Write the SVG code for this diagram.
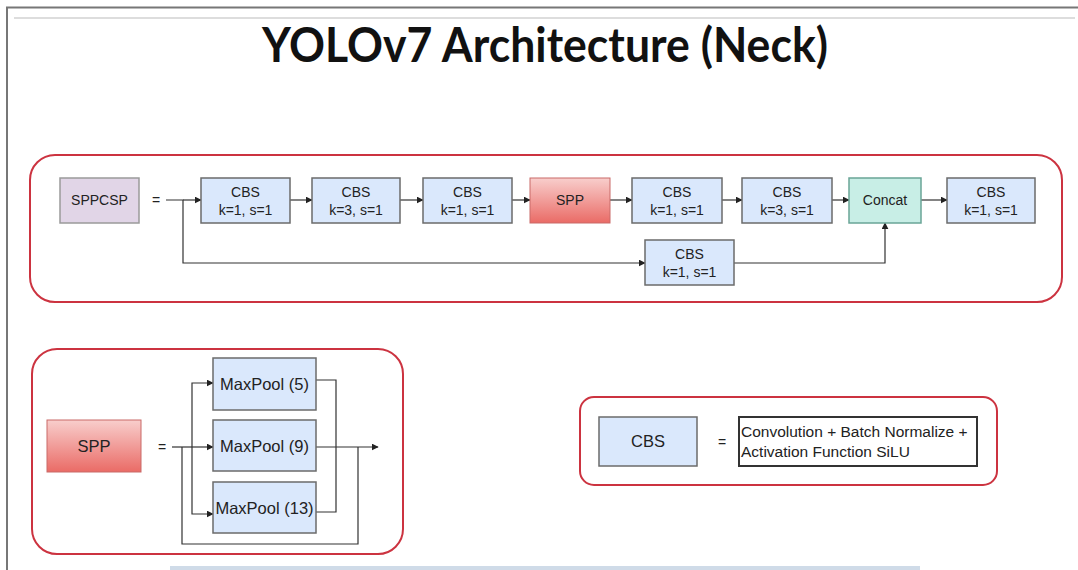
<svg xmlns="http://www.w3.org/2000/svg" width="1078" height="570" viewBox="0 0 1078 570">
<defs>
<style>
.t{font-family:"Liberation Sans",Arial,sans-serif;font-size:14px;fill:#222;text-anchor:middle}
.mp{font-family:"Liberation Sans",Arial,sans-serif;font-size:16.5px;fill:#222;text-anchor:middle}
.cbs{fill:#dae8fc;stroke:#6b6b6b;stroke-width:1.5}
.cont{fill:none;stroke:#cc3340;stroke-width:2}
.ln{fill:none;stroke:#333;stroke-width:1.2}
.arr{fill:none;stroke:#333;stroke-width:1.2;marker-end:url(#ah)}
</style>
<marker id="ah" viewBox="0 0 10 10" refX="9" refY="5" markerWidth="7" markerHeight="7" markerUnits="userSpaceOnUse" orient="auto">
<path d="M0,0 L10,5 L0,10 Z" fill="#222"/>
</marker>
<linearGradient id="red" x1="0" y1="0" x2="0" y2="1">
<stop offset="0" stop-color="#f8cecc"/>
<stop offset="1" stop-color="#ea6b66"/>
</linearGradient>
</defs>
<rect width="1078" height="570" fill="#ffffff"/>
<g id="frame">
<line x1="6" y1="7.5" x2="1078" y2="7.5" stroke="#777" stroke-width="2"/>
<line x1="7" y1="7" x2="7" y2="570" stroke="#777" stroke-width="2"/>
<line x1="14" y1="18" x2="1075" y2="18" stroke="#bbb" stroke-width="1"/>
<rect x="170" y="566" width="750" height="4" fill="#cfdbe8"/>
</g>
<text x="545" y="62" font-family="Lato,'Open Sans',sans-serif" font-weight="bold" font-size="48" fill="#111" text-anchor="middle" textLength="566" lengthAdjust="spacingAndGlyphs">YOLOv7 Architecture (Neck)</text>

<g id="containers">
<rect class="cont" x="30" y="155" width="1032" height="147" rx="25"/>
<rect class="cont" x="32" y="349" width="371" height="205" rx="25"/>
<rect class="cont" x="580" y="397" width="417" height="88" rx="14"/>
</g>

<g id="connectors">
<path class="ln" d="M166,200 H183 V263 H200"/>
<path class="arr" d="M183,200 H201"/>
<path class="arr" d="M290,200 H312"/>
<path class="arr" d="M400,200 H423"/>
<path class="arr" d="M512,200 H530"/>
<path class="arr" d="M610,200 H632"/>
<path class="arr" d="M722,200 H742"/>
<path class="arr" d="M832,200 H849"/>
<path class="arr" d="M921,200 H947"/>
<path class="arr" d="M200,263 H645"/>
<path class="arr" d="M734,263 H885 V223"/>
<path class="ln" d="M172,447 H192"/>
<path class="arr" d="M192,447 H213"/>
<path class="arr" d="M192,447 V383 H213"/>
<path class="arr" d="M192,447 V514 H213"/>
<path class="ln" d="M182,447 V544 H358 V447"/>
<path class="ln" d="M316,380 H336 V512 H316"/>
<path class="arr" d="M316,447 H378"/>
</g>

<g id="sppcsp"><rect x="60" y="178" width="79" height="45" fill="#e1d5e7" stroke="#9a9a9a" stroke-width="1.5"/><text class="t" x="99.5" y="205">SPPCSP</text></g>
<text class="t" x="156" y="205">=</text>
<g id="cbs1"><rect class="cbs" x="201" y="178" width="89" height="45"/><text class="t" x="245.5" y="197">CBS</text><text class="t" x="245.5" y="215">k=1, s=1</text></g>
<g id="cbs2"><rect class="cbs" x="312" y="178" width="88" height="45"/><text class="t" x="356" y="197">CBS</text><text class="t" x="356" y="215">k=3, s=1</text></g>
<g id="cbs3"><rect class="cbs" x="423" y="178" width="89" height="45"/><text class="t" x="467.5" y="197">CBS</text><text class="t" x="467.5" y="215">k=1, s=1</text></g>
<g id="spp1"><rect x="530" y="178" width="80" height="45" fill="url(#red)" stroke="#c96a68" stroke-width="1"/><text class="t" x="570" y="205">SPP</text></g>
<g id="cbs4"><rect class="cbs" x="632" y="178" width="90" height="45"/><text class="t" x="677" y="197">CBS</text><text class="t" x="677" y="215">k=1, s=1</text></g>
<g id="cbs5"><rect class="cbs" x="742" y="178" width="90" height="45"/><text class="t" x="787" y="197">CBS</text><text class="t" x="787" y="215">k=3, s=1</text></g>
<g id="concat"><rect x="849" y="178" width="72" height="45" fill="#c8eee6" stroke="#6aa597" stroke-width="1.5"/><text class="t" x="885" y="205">Concat</text></g>
<g id="cbs6"><rect class="cbs" x="947" y="178" width="88" height="45"/><text class="t" x="991" y="197">CBS</text><text class="t" x="991" y="215">k=1, s=1</text></g>
<g id="cbs7"><rect class="cbs" x="645" y="240" width="89" height="45"/><text class="t" x="689.5" y="259">CBS</text><text class="t" x="689.5" y="277">k=1, s=1</text></g>

<g id="spp2"><rect x="47" y="420" width="94" height="52" fill="url(#red)" stroke="#c96a68" stroke-width="1"/><text class="mp" x="94" y="452" font-size="17">SPP</text></g>
<text class="t" x="162" y="452">=</text>
<g id="mp5"><rect class="cbs" x="213" y="358" width="103" height="52"/><text class="mp" x="264.5" y="390">MaxPool (5)</text></g>
<g id="mp9"><rect class="cbs" x="213" y="420" width="103" height="51"/><text class="mp" x="264.5" y="452">MaxPool (9)</text></g>
<g id="mp13"><rect class="cbs" x="213" y="482" width="103" height="51"/><text class="mp" x="264.5" y="514">MaxPool (13)</text></g>

<g id="cbsdef"><rect class="cbs" x="599" y="417" width="98" height="49"/><text class="mp" x="648" y="447" font-size="16">CBS</text></g>
<text class="t" x="722" y="447">=</text>
<g id="cbstext"><rect x="739" y="417" width="238" height="49" fill="#fff" stroke="#333" stroke-width="2"/>
<text font-family="'Liberation Sans',Arial,sans-serif" font-size="15.5" fill="#222" x="741" y="437">Convolution + Batch Normalize +</text>
<text font-family="'Liberation Sans',Arial,sans-serif" font-size="15.5" fill="#222" x="741" y="457">Activation Function SiLU</text></g>
</svg>
